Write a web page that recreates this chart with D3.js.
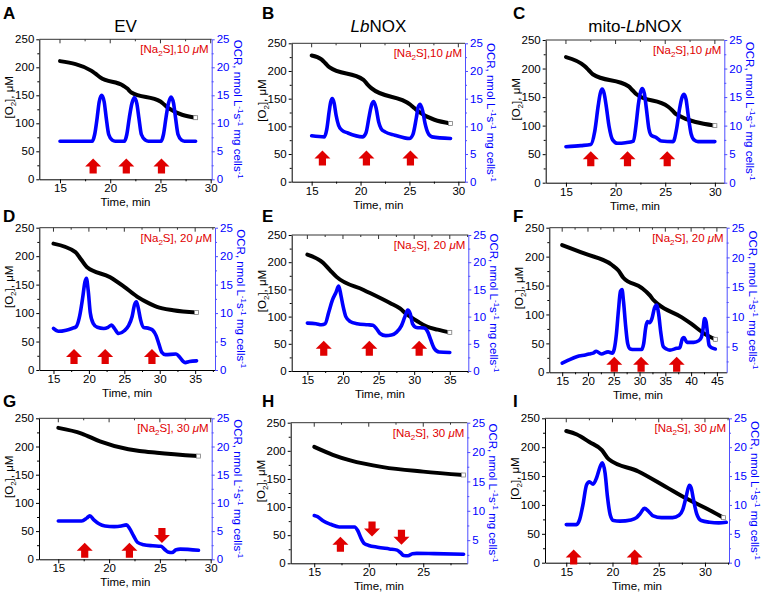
<!DOCTYPE html>
<html><head><meta charset="utf-8">
<script src="https://cdn.jsdelivr.net/npm/d3@7"></script>
<style>body{margin:0;background:#fff}svg{display:block}</style>
</head><body><svg id="c" width="765" height="598"></svg>
<script>
// ---------- DATA ----------
const panelLetters = ["A","B","C","D","E","F","G","H","I"];
const columnTitles = [["EV"], [["Lb",true],["NOX",false]], [["mito-",false],["Lb",true],["NOX",false]]];
const concLabels = ["10","10","10","20","20","20","30","30","30"];
const xTickValues = [
  [15,20,25,30],[15,20,25,30],[15,20,25,30],
  [15,20,25,30,35],[15,20,25,30,35],[15,20,25,30,35,40,45],
  [15,20,25,30],[15,20,25],[15,20,25,30]
];
const o2TickValues = [0,50,100,150,200,250];
const ocrTickValues = [0,5,10,15,20,25];

// [time (min), O2 (µM)]
const o2A = [[15,211],[18.1,194],[18.5,189],[19,182],[21.3,167],[21.7,162],[22.1,155],[25,139],[25.4,133],[25.8,127],[28.5,110]];
const o2B = [[15,228],[16,221],[16.4,214],[16.8,207],[20.3,184],[20.7,176],[21.1,169],[25.1,139],[25.5,133],[25.9,127],[29.2,105]];
const o2C = [[15,220],[16.9,204],[17.3,197],[17.7,190],[21.3,169],[21.7,162],[22.1,155],[25.3,133],[25.7,127],[26.1,120],[30,100]];
const o2D = [[15,222],[18.1,207],[18.9,194],[19.7,181],[23,163],[24.9,147],[26.8,129],[28.5,117],[29.6,111],[31.9,105],[35.2,101]];
const o2E = [[15,214],[17.2,199],[18.2,185],[19.1,173],[22.9,149],[26.6,125],[28.0,115],[28.9,105],[30.5,91],[31.7,82],[33.3,76],[35,71]];
const o2F = [[15,220],[19.4,205],[24.6,186],[25.9,176],[26.9,163],[30.4,146],[32.0,133],[32.7,125],[33.7,117],[38.2,95],[40,84],[42.7,66],[44.7,57]];
const o2G = [[15,233],[17.3,223],[19.1,209],[21.9,195],[23,192],[24.7,189],[28.8,183]];
const o2H = [[15,207],[16.7,193],[18.3,183],[21.3,171],[25,163],[28.7,157]];
const o2I = [[15,228],[16.15,222],[17.5,209],[18.85,195],[19.6,179],[22.8,158],[25.7,132],[28,111],[30,95],[32,78]];

// [time (min), OCR (nmol L-1 s-1 mg cells-1)]
const ocrA = [[15,6.8],[18.2,6.8],[18.45,8.0],[18.7,11],[18.9,13.8],[19.15,15],[19.4,13.8],[19.6,11],[19.85,8.0],[20.2,7.0],[20.5,6.8],[21.4,6.8],[21.65,8],[21.9,11],[22.15,13.5],[22.4,14.6],[22.65,13.5],[22.85,11],[23.1,8],[23.5,7],[23.8,6.8],[25.05,6.8],[25.3,8],[25.55,11],[25.8,13.6],[26.05,14.7],[26.3,13.6],[26.5,11],[26.75,8],[27.1,7],[27.4,6.8],[28.5,6.8]];
const ocrB = [[15,8.3],[16.3,8.1],[16.55,9.5],[16.8,12.8],[16.95,14.4],[17.1,15],[17.3,14.2],[17.5,12],[17.75,10.2],[18.1,9.3],[18.7,8.8],[20.2,8.1],[20.55,8.8],[20.9,12],[21.15,14],[21.35,14.5],[21.6,13.2],[21.85,10.8],[22.1,9.6],[22.5,9.0],[23.5,8.4],[25.0,7.8],[25.35,8.5],[25.7,11.5],[25.9,13.5],[26.1,14.0],[26.35,12.8],[26.6,10.5],[26.9,8.8],[27.3,8.1],[29.2,7.8]];
const ocrC = [[15,6.3],[16.5,6.5],[17.5,6.7],[17.9,9],[18.25,13.5],[18.45,15.6],[18.65,16.4],[18.85,15.6],[19.05,13.5],[19.35,9.8],[19.7,7.5],[20.2,6.9],[21.0,7.0],[21.8,7.3],[22.05,10],[22.3,13.8],[22.5,15.8],[22.7,16.5],[22.9,15.6],[23.1,13],[23.35,9.5],[23.6,8.3],[24.1,7.9],[24.6,7.3],[25.8,7.2],[26.15,9.5],[26.45,13],[26.7,15],[26.9,15.5],[27.1,14.6],[27.3,12],[27.6,8.6],[27.9,7.5],[28.3,7.2],[30,7.2]];
const ocrD = [[15,7.3],[15.7,6.8],[16.8,7.0],[17.6,7.3],[18.2,7.6],[18.7,9.5],[19.1,12.5],[19.45,15.5],[19.65,16.1],[19.9,14],[20.2,10],[20.6,8.2],[21.2,7.5],[22.1,7.3],[22.7,7.5],[23.2,7.9],[23.6,7.3],[24.2,6.4],[25.0,6.9],[25.6,7.8],[26.1,9.4],[26.45,11.5],[26.7,12.0],[26.95,11],[27.3,8.8],[27.7,7.5],[28.5,7.3],[29.0,7.0],[29.5,6.0],[29.9,4.5],[30.3,3.1],[30.8,2.7],[32.3,2.8],[32.8,2.3],[33.3,1.5],[33.6,1.3],[34.2,1.5],[35.2,1.6]];
const ocrE = [[15,8.8],[16.2,8.7],[17.0,8.5],[17.5,8.7],[18.0,10.8],[18.5,13],[19.0,14.4],[19.4,15.6],[19.7,14],[20.0,12],[20.4,10],[21.0,9.1],[22,8.7],[23.5,8.5],[24.2,8.4],[24.7,7.8],[25.2,6.9],[26.0,6.5],[26.8,6.6],[27.5,7.1],[28.2,8.3],[28.7,10],[29.1,11.2],[29.45,10.5],[29.8,8.6],[30.3,8.0],[31.4,7.9],[31.9,7.2],[32.3,5.8],[32.8,4.2],[33.5,3.5],[35,3.4]];
const ocrF = [[15,2.2],[16.2,2.7],[17.8,3.3],[19.5,3.6],[20.5,3.8],[21,3.9],[21.6,4.2],[22.6,3.75],[23.9,4.1],[24.7,3.9],[25.1,4.6],[25.5,7],[25.9,11],[26.3,14.3],[26.6,14.6],[26.9,12.5],[27.3,8.5],[27.7,5.5],[28.2,4.6],[29.0,4.5],[30.4,4.5],[30.8,5.5],[31.2,8.2],[31.5,9.2],[31.9,9.0],[32.4,9.7],[32.9,11.5],[33.3,12.0],[33.7,10.5],[34.1,7.5],[34.6,5.0],[35.2,4.6],[35.9,4.4],[37.2,4.7],[37.8,4.8],[38.3,6.3],[38.6,6.5],[39.2,5.7],[40.5,5.7],[41.5,6.0],[42.0,6.6],[42.3,7.9],[42.6,9.7],[42.9,9.2],[43.2,7.0],[43.5,5.2],[44.0,4.8],[44.7,4.6]];
const ocrG = [[15,6.8],[17.3,6.8],[17.8,7.3],[18.1,7.7],[18.5,7.0],[19.0,6.3],[19.6,5.9],[20.5,5.8],[21.2,5.9],[21.7,6.1],[22.0,5.5],[22.4,4.2],[22.8,3.0],[23.4,2.6],[24.3,2.4],[25.1,2.3],[25.5,1.7],[25.8,1.3],[26.2,1.2],[26.6,1.7],[27.0,1.8],[28.8,1.6]];
const ocrH = [[15,9.2],[15.3,9.0],[15.8,8.3],[16.5,7.7],[17.3,7.25],[18.7,7.25],[19.0,6.6],[19.3,5.3],[19.6,4.4],[20.0,4.1],[20.8,3.8],[21.9,3.5],[22.6,3.3],[22.9,2.9],[23.2,2.4],[23.6,2.35],[24.0,2.7],[24.4,2.75],[26,2.7],[28.7,2.6]];
const ocrI = [[15,6.6],[16.1,6.6],[16.45,7.5],[16.8,10],[17.2,13.5],[17.5,14],[17.9,13.6],[18.3,14.8],[18.7,16.8],[18.9,17.3],[19.2,15.5],[19.45,11.5],[19.75,8.3],[20.1,7.3],[20.8,7.2],[22.0,7.4],[22.6,7.8],[23.0,8.5],[23.45,9.4],[23.9,8.9],[24.4,8.1],[25.3,7.8],[26.5,7.8],[27.2,8.2],[27.6,9.2],[27.95,11.3],[28.3,13.4],[28.5,13.0],[28.75,11.0],[29.1,8.5],[29.6,7.3],[30.5,7.0],[31.5,6.9],[32.3,7.0]];

// Na2S additions: [time, O2-axis level, direction]
const arrowsA = [[18.3,23,"up"],[21.6,23,"up"],[25.1,23,"up"]];
const arrowsB = [[16.1,42,"up"],[20.6,42,"up"],[25.1,42,"up"]];
const arrowsC = [[17.5,41,"up"],[21.2,41,"up"],[25.2,41,"up"]];
const arrowsD = [[17.9,23,"up"],[22.3,23,"up"],[28.9,23,"up"]];
const arrowsE = [[17.3,41,"up"],[23.7,41,"up"],[30.7,41,"up"]];
const arrowsF = [[25.1,13,"up"],[30.3,13,"up"],[37.2,13,"up"]];
const arrowsG = [[17.6,15,"up"],[22.0,15,"up"],[25.2,43,"down"]];
const arrowsH = [[17.4,33,"up"],[20.3,62,"down"],[23.0,47,"down"]];
const arrowsI = [[15.8,9,"up"],[22.4,9,"up"]];

const o2Series = [o2A,o2B,o2C,o2D,o2E,o2F,o2G,o2H,o2I];
const ocrSeries = [ocrA,ocrB,ocrC,ocrD,ocrE,ocrF,ocrG,ocrH,ocrI];
const arrowSeries = [arrowsA,arrowsB,arrowsC,arrowsD,arrowsE,arrowsF,arrowsG,arrowsH,arrowsI];

// ---------- LAYOUT ----------
const layout = [
  {L:39.3,T:39.3,R:211.7,B:179.3,xd:[12.94,30.1],rd:[0,25],lx:3,ly:19},
  {L:291.7,T:43.3,R:465,B:181.7,xd:[12.96,30.68],rd:[0,25],lx:262,ly:19},
  {L:545.7,T:40,R:724.3,B:182.7,xd:[12.96,30.95],rd:[0,25],lx:513,ly:19},
  {L:39.3,T:227.7,R:215,B:370,xd:[13.0,37.8],rd:[0,25],lx:3,ly:222},
  {L:291.7,T:235,R:468.3,B:371,xd:[12.8,37.6],rd:[0,25],lx:262,ly:222},
  {L:549.3,T:227.7,R:726.7,B:372.3,xd:[12.5,46.9],rd:[0.67,25],lx:513,ly:222},
  {L:39,T:418.3,R:211.7,B:559.3,xd:[13.1,30.1],rd:[0,25],lx:3,ly:407},
  {L:290.7,T:422.7,R:467.3,B:563.3,xd:[12.84,29.04],rd:[1.06,25],lx:262,ly:407},
  {L:545,T:418.3,R:729,B:562.7,xd:[12.7,32.6],rd:[0,25],lx:513,ly:407}
];

const FONT = "'Liberation Sans', Arial, Helvetica, sans-serif";
const BLUE = "#0000ff", BLUE_AX = "#4f4fff", RED = "#e00000";
const svg = d3.select("#c").style("font-family", FONT);

function styleAxis(g, color, textColor){
  g.selectAll("path,line").attr("stroke", color).attr("stroke-width", 1);
  g.selectAll("text").attr("fill", textColor).style("font-size","11.5px").style("font-family",FONT);
}

layout.forEach((p, i) => {
  const g = svg.append("g");
  const x = d3.scaleLinear().domain(p.xd).range([p.L, p.R]);
  const yL = d3.scaleLinear().domain([0,250]).range([p.B, p.T]);
  const yR = d3.scaleLinear().domain(p.rd).range([p.B, p.T]);
  const xt = xTickValues[i];
  const xMinor = d3.range(xt[0]-2.5, p.xd[1], 2.5).filter(v => v > p.xd[0] && v < p.xd[1] && !xt.includes(v));
  const rt = ocrTickValues.filter(v => v >= p.rd[0]);

  // top border with inward ticks
  g.append("line").attr("x1",p.L).attr("x2",p.R).attr("y1",p.T).attr("y2",p.T).attr("stroke","#333");
  g.selectAll(".tt").data(xt.concat(xMinor)).enter().append("line")
    .attr("x1",d=>x(d)).attr("x2",d=>x(d)).attr("y1",p.T).attr("y2",d=>p.T + (xt.includes(d)?4:2)).attr("stroke","#333");

  // bottom axis
  const gb = g.append("g").attr("transform",`translate(0,${p.B})`)
    .call(d3.axisBottom(x).tickValues(xt).tickSize(4).tickPadding(1).tickSizeOuter(0));
  styleAxis(gb,"#000","#000");
  const gbm = g.append("g").attr("transform",`translate(0,${p.B})`)
    .call(d3.axisBottom(x).tickValues(xMinor).tickSize(2).tickFormat(""));
  gbm.select(".domain").remove(); styleAxis(gbm,"#000","#000");

  // left axis
  const gl = g.append("g").attr("transform",`translate(${p.L},0)`)
    .call(d3.axisLeft(yL).tickValues(o2TickValues).tickSize(3).tickPadding(2).tickSizeOuter(0));
  styleAxis(gl,"#000","#000");
  const glm = g.append("g").attr("transform",`translate(${p.L},0)`)
    .call(d3.axisLeft(yL).tickValues([25,75,125,175,225]).tickSize(2).tickFormat(""));
  glm.select(".domain").remove(); styleAxis(glm,"#000","#000");

  // right axis (blue)
  const gr = g.append("g").attr("transform",`translate(${p.R},0)`)
    .call(d3.axisRight(yR).tickValues(rt).tickSize(3).tickPadding(2).tickSizeOuter(0));
  styleAxis(gr,BLUE_AX,BLUE);
  const grm = g.append("g").attr("transform",`translate(${p.R},0)`)
    .call(d3.axisRight(yR).tickValues([2.5,7.5,12.5,17.5,22.5].filter(v=>v>p.rd[0])).tickSize(2).tickFormat(""));
  grm.select(".domain").remove(); styleAxis(grm,BLUE_AX,BLUE);

  // O2 line (black)
  const lineL = d3.line().x(d=>x(d[0])).y(d=>yL(d[1])).curve(d3.curveMonotoneX);
  g.append("path").datum(o2Series[i]).attr("d",lineL).attr("fill","none")
    .attr("stroke","#000").attr("stroke-width",4).attr("stroke-linejoin","round").attr("stroke-linecap","round");
  const last = o2Series[i][o2Series[i].length-1];
  g.append("rect").attr("x",x(last[0])-2).attr("y",yL(last[1])-2).attr("width",4).attr("height",4)
    .attr("fill","#fff").attr("stroke","#888").attr("stroke-width",0.8);

  // OCR line (blue)
  const lineR = d3.line().x(d=>x(d[0])).y(d=>yR(d[1])).curve(d3.curveMonotoneX);
  g.append("path").datum(ocrSeries[i]).attr("d",lineR).attr("fill","none")
    .attr("stroke",BLUE).attr("stroke-width",3.6).attr("stroke-linejoin","round").attr("stroke-linecap","round");

  // arrows
  const up = "M0,-8 L8,0 L3.6,0 L3.6,7 L-3.6,7 L-3.6,0 L-8,0 Z";
  const down = "M0,8 L8,0 L3.6,0 L3.6,-7 L-3.6,-7 L-3.6,0 L-8,0 Z";
  g.selectAll(".arr").data(arrowSeries[i]).enter().append("path")
    .attr("d",d=>d[2]==="up"?up:down)
    .attr("transform",d=>`translate(${x(d[0])},${yL(d[1])})`)
    .attr("fill",RED);

  // concentration annotation
  const ann = g.append("text").attr("x",p.R-3).attr("y",p.T+14).attr("text-anchor","end")
    .attr("fill",RED).style("font-size","11.5px");
  ann.append("tspan").text("[Na");
  ann.append("tspan").attr("dy",3).style("font-size","8px").text("2");
  ann.append("tspan").attr("dy",-3).text(i<3 ? "S]," : "S], ");
  ann.append("tspan").text(concLabels[i]+" ");
  ann.append("tspan").style("font-style","italic").text("\u03bc");
  ann.append("tspan").text("M");

  // x label
  g.append("text").attr("x",(p.L+p.R)/2).attr("y",p.B+27).attr("text-anchor","middle")
    .style("font-size","11.5px").attr("fill","#000").text("Time, min");

  // left y label
  const yl = g.append("text").attr("transform",`translate(${p.L-26},${(p.T+p.B)/2-12}) rotate(-90)`)
    .attr("text-anchor","middle").style("font-size","11.5px").attr("fill","#000");
  yl.append("tspan").text("[O");
  yl.append("tspan").attr("dy",3).style("font-size","8px").text("2");
  yl.append("tspan").attr("dy",-3).text("], \u03bcM");

  // right y label
  const yr = g.append("text").attr("transform",`translate(${p.R+22},${(p.T+p.B)/2}) rotate(90)`)
    .attr("text-anchor","middle").style("font-size","11.5px").attr("fill",BLUE);
  const parts = [["OCR, nmol L",0],["-1",1],["s",0],["-1",1],[" mg cells",0],["-1",1]];
  let prevSup = false;
  parts.forEach(([t,s]) => {
    const ts = yr.append("tspan").text(t);
    if (s) { ts.attr("dy",-4).style("font-size","8px"); prevSup = true; }
    else if (prevSup) { ts.attr("dy",4); prevSup = false; }
  });

  // panel letter
  svg.append("text").attr("x",p.lx).attr("y",p.ly).style("font-size","17px").style("font-weight","bold")
    .attr("fill","#000").text(panelLetters[i]);

  // column titles
  if (i < 3) {
    const t = svg.append("text").attr("x",(p.L+p.R)/2).attr("y",32).attr("text-anchor","middle")
      .style("font-size","17px").attr("fill","#000");
    columnTitles[i].forEach(part => {
      if (typeof part === "string") t.append("tspan").text(part);
      else t.append("tspan").style("font-style",part[1]?"italic":"normal").text(part[0]);
    });
  }
});
</script>
</body></html>
